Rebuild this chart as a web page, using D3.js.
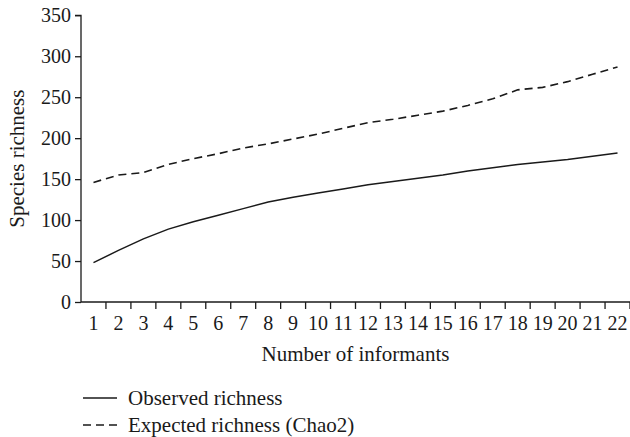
<!DOCTYPE html>
<html>
<head>
<meta charset="utf-8">
<script src="https://cdn.jsdelivr.net/npm/d3@7"></script>
<style>
  html, body { margin: 0; padding: 0; background: #fff; }
  text { font-family: "Liberation Serif", "Times New Roman", serif; fill: #1a1a1a; }
</style>
</head>
<body>
<svg id="chart" width="630" height="437"></svg>
<script>
const informants = d3.range(1, 23).map(String);
const observed = [48, 63, 77, 89, 98, 106, 114, 122, 128, 133, 138, 143, 147, 151, 155, 160, 164, 168, 171, 174, 178, 182];
const expected = [146, 155, 158, 168, 175, 181, 188, 193, 199, 205, 212, 219, 223, 228, 233, 240, 248, 259, 262, 269, 278, 287];
const yTicks = [0, 50, 100, 150, 200, 250, 300, 350];
const seriesNames = ["Observed richness", "Expected richness (Chao2)"];

(function () {
const svg = d3.select("#chart");
const mLeft = 81, mRight = 630, mTop = 15.3, mBottom = 302;

const x = d3.scaleBand().domain(informants).range([mLeft, mRight]).padding(0);
const y = d3.scaleLinear().domain([0, 350]).range([mBottom, mTop]);

// Y axis
const yAxis = svg.append("g").attr("transform", `translate(${mLeft},0)`)
  .call(d3.axisLeft(y).tickValues(yTicks).tickSize(6).tickPadding(4).tickFormat(d3.format("d")));
yAxis.select(".domain").attr("stroke", "#1a1a1a").attr("stroke-width", 1.3).attr("d", `M-6,${y(350)}H0V${mBottom}`);
yAxis.selectAll(".tick line").attr("stroke", "#1a1a1a").attr("stroke-width", 1.3);
yAxis.selectAll(".tick text").attr("font-size", 20).attr("font-family", "Liberation Serif").attr("fill", "#1a1a1a");

// X axis with ticks between categories
const xg = svg.append("g").attr("transform", `translate(0,${mBottom})`);
xg.append("line").attr("x1", mLeft).attr("x2", mRight).attr("y1", 0).attr("y2", 0)
  .attr("stroke", "#1a1a1a").attr("stroke-width", 1.3);
xg.selectAll("line.tk").data(informants).enter().append("line").attr("class", "tk")
  .attr("x1", d => x(d) + x.bandwidth()).attr("x2", d => x(d) + x.bandwidth())
  .attr("y1", 0).attr("y2", 7).attr("stroke", "#1a1a1a").attr("stroke-width", 1.3);
xg.selectAll("text").data(informants).enter().append("text")
  .attr("x", d => x(d) + x.bandwidth() / 2).attr("y", 28)
  .attr("text-anchor", "middle").attr("font-size", 20).text(d => d);

// Axis titles
svg.append("text").attr("x", (mLeft + mRight) / 2).attr("y", 361).attr("text-anchor", "middle")
  .attr("font-size", 21).text("Number of informants");
svg.append("text").attr("transform", `translate(24,${(mTop + mBottom) / 2}) rotate(-90)`)
  .attr("text-anchor", "middle").attr("font-size", 21).text("Species richness");

// Lines
const line = d3.line().x((d, i) => x(informants[i]) + x.bandwidth() / 2).y(d => y(d));
svg.append("path").datum(observed).attr("d", line).attr("fill", "none")
  .attr("stroke", "#1a1a1a").attr("stroke-width", 1.5);
svg.append("path").datum(expected).attr("d", line).attr("fill", "none")
  .attr("stroke", "#1a1a1a").attr("stroke-width", 1.6).attr("stroke-dasharray", "8,5");

// Legend
const ly = [398, 425];
seriesNames.forEach((name, i) => {
  svg.append("line").attr("x1", 83).attr("x2", 117).attr("y1", ly[i]).attr("y2", ly[i])
    .attr("stroke", "#1a1a1a").attr("stroke-width", 1.4)
    .attr("stroke-dasharray", i === 1 ? "8,5" : null);
  svg.append("text").attr("x", 128).attr("y", ly[i] + 7).attr("font-size", 21).text(name);
});
})();
</script>
</body>
</html>
